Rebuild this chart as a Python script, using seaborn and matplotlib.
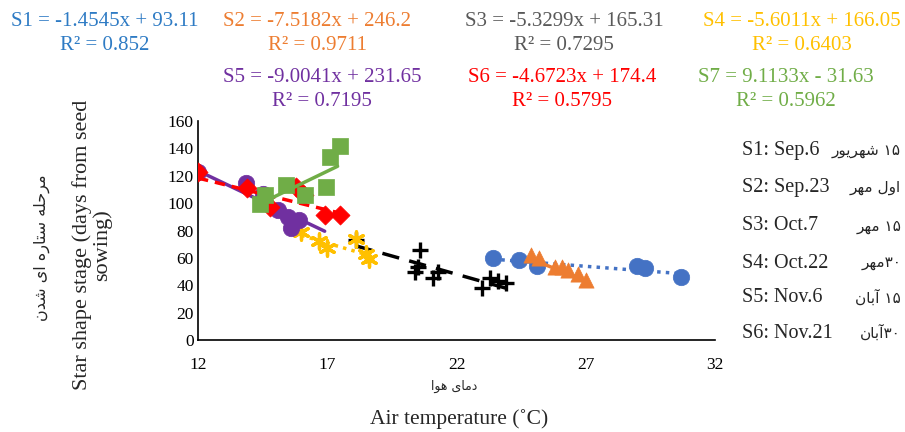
import re
import numpy as np
import pandas as pd
import matplotlib
matplotlib.use('Agg')
import matplotlib.pyplot as plt
import seaborn as sns

# Data (air temperature vs. days to star-shape stage)
s1_x = [23.4, 24.4, 25.1, 29.0, 29.3, 30.7]
s1_y = [60, 58.5, 54, 54, 52.5, 46]
s2_x = [24.9, 25.2, 25.8, 26.1, 26.3, 26.7, 27.0]
s2_y = [62, 60, 53, 53, 51, 48, 44]
s3_x = [18.1, 20.4, 20.6, 20.5, 21.1, 21.3, 23.0, 23.3, 23.6, 23.9]
s3_y = [73, 50, 66, 53, 45, 50, 38, 45, 43, 42]
s4_x = [16.0, 16.7, 17.0, 18.1, 18.5, 18.6]
s4_y = [79, 72, 67, 74, 63, 59]
s5_x = [12.0, 13.85, 14.5, 15.1, 15.5, 15.6, 15.9]
s5_y = [123, 115, 107, 95, 90, 82, 88]
s6_x = [12.0, 13.9, 14.8, 15.8, 16.1, 16.9, 17.5]
s6_y = [123, 111, 97, 112, 106, 91, 91]
s7_x = [14.4, 14.6, 15.4, 16.15, 16.95, 17.1, 17.5]
s7_y = [99, 106, 113, 106, 112, 134, 142]

series = ['S1', 'S2', 'S3', 'S4', 'S5', 'S6', 'S7']
slopes = [-1.4545, -7.5182, -5.3299, -5.6011, -9.0041, -4.6723, 9.1133]
intercepts = [93.11, 246.2, 165.31, 166.05, 231.65, 174.4, -31.63]
r2 = ['0.852', '0.9711', '0.7295', '0.6403', '0.7195', '0.5795', '0.5962']
trend_lo = [23.4, 24.9, 18.1, 16.0, 12.0, 12.0, 14.4]
trend_hi = [30.7, 27.0, 23.9, 18.6, 16.9, 17.5, 17.4]

dates_en = ['S1: Sep.6', 'S2: Sep.23', 'S3: Oct.7', 'S4: Oct.22', 'S5: Nov.6', 'S6: Nov.21']
dates_fa = ['۱۵ شهریور', 'اول مهر', '۱۵ مهر', '۳۰مهر', '۱۵ آبان', '۳۰آبان']

xticks = [12, 17, 22, 27, 32]
yticks = [0, 20, 40, 60, 80, 100, 120, 140, 160]

xs = [s1_x, s2_x, s3_x, s4_x, s5_x, s6_x, s7_x]
ys = [s1_y, s2_y, s3_y, s4_y, s5_y, s6_y, s7_y]

# Persian letters -> (isolated, final, initial, medial); None = does not join forward
FORMS = {
    'ا': ('\uFE8D', '\uFE8E', None, None),
    'آ': ('\uFE81', '\uFE82', None, None),
    'ب': ('\uFE8F', '\uFE90', '\uFE91', '\uFE92'),
    'ت': ('\uFE95', '\uFE96', '\uFE97', '\uFE98'),
    'ح': ('\uFEA1', '\uFEA2', '\uFEA3', '\uFEA4'),
    'د': ('\uFEA9', '\uFEAA', None, None),
    'ر': ('\uFEAD', '\uFEAE', None, None),
    'س': ('\uFEB1', '\uFEB2', '\uFEB3', '\uFEB4'),
    'ش': ('\uFEB5', '\uFEB6', '\uFEB7', '\uFEB8'),
    'ل': ('\uFEDD', '\uFEDE', '\uFEDF', '\uFEE0'),
    'م': ('\uFEE1', '\uFEE2', '\uFEE3', '\uFEE4'),
    'ن': ('\uFEE5', '\uFEE6', '\uFEE7', '\uFEE8'),
    'ه': ('\uFEE9', '\uFEEA', '\uFEEB', '\uFEEC'),
    'و': ('\uFEED', '\uFEEE', None, None),
    'ی': ('\uFBFC', '\uFBFD', '\uFBFE', '\uFBFF'),
}


def fa(text):
    # contextual shaping + right-to-left visual order (digits stay LTR)
    out = []
    for i, ch in enumerate(text):
        if ch not in FORMS:
            out.append(ch)
            continue
        prev = text[i - 1] if i > 0 else ''
        nxt = text[i + 1] if i + 1 < len(text) else ''
        jp = prev in FORMS and FORMS[prev][2] is not None
        jn = nxt in FORMS and FORMS[ch][2] is not None
        iso, fin, ini, med = FORMS[ch]
        out.append(med if (jp and jn) else fin if jp else ini if jn else iso)
    vis = ''.join(out)[::-1]
    return re.sub('[۰-۹]+', lambda m: m.group(0)[::-1], vis)


sns.set_style('white')
plt.rcParams['font.family'] = ['Liberation Serif', 'DejaVu Sans']

marker_col = ['#4472C4', '#ED7D31', '#000000', '#FFC000', '#7030A0', '#FF0000', '#70AD47']
text_col = ['#2E7BC4', '#ED7D31', '#595959', '#FFC000', '#7030A0', '#FF0000', '#70AD47']
markers = ['o', '^', '+', (6, 2, 0), 'o', 'D', 's']
sizes = [140, 120, 130, 120, 140, 95, 130]
line_styles = [(0, (1, 1.5)), '-', (0, (5, 3)), (0, (1, 1.5)), '-', (0, (3, 2)), '-']

fig = plt.figure(figsize=(9.05, 4.32), dpi=100)
ax = fig.add_axes([198 / 905, 1 - 340 / 432, 517 / 905, 219 / 432])

for i, name in enumerate(series):
    df = pd.DataFrame({'x': xs[i], 'y': ys[i]})
    if markers[i] in ['+', (6, 2, 0)]:
        sns.scatterplot(data=df, x='x', y='y', ax=ax, marker=markers[i], s=sizes[i],
                        color=marker_col[i], linewidth=2.4, zorder=3 + i)
    else:
        sns.scatterplot(data=df, x='x', y='y', ax=ax, marker=markers[i], s=sizes[i],
                        color=marker_col[i], edgecolor=marker_col[i], linewidth=0.5,
                        zorder=3 + i)
    tx = np.array([trend_lo[i], trend_hi[i]])
    ax.plot(tx, slopes[i] * tx + intercepts[i], color=marker_col[i], lw=2.5,
            ls=line_styles[i], zorder=3 + i)

ax.set_xlim(12, 32)
ax.set_ylim(0, 160)
ax.set_xticks(xticks)
ax.set_yticks(yticks)
ax.set_xlabel('')
ax.set_ylabel('')
ax.tick_params(axis='both', length=0, labelsize=12.5, colors='#000000')
ax.tick_params(axis='x', pad=12)
ax.tick_params(axis='y', pad=3)
for side in ['top', 'right']:
    ax.spines[side].set_visible(False)
for side in ['left', 'bottom']:
    ax.spines[side].set_color('#000000')
    ax.spines[side].set_linewidth(1.2)

# regression equations above the plot
eq_pos = [(105, 22), (317, 22), (564, 22), (802, 22), (322, 78), (562, 78), (786, 78)]
for i, name in enumerate(series):
    b = intercepts[i]
    sign = '+' if b >= 0 else '-'
    eq = f'{name} = {slopes[i]}x {sign} {abs(b):g}'
    px, py = eq_pos[i]
    fig.text(px / 905, 1 - py / 432, eq, color=text_col[i], fontsize=15,
             ha='center', va='center')
    fig.text(px / 905, 1 - (py + 23) / 432, f'R² = {r2[i]}', color=text_col[i],
             fontsize=15, ha='center', va='center')

# sowing dates on the right
row_y = [150, 188, 226, 263, 298, 333]
for i in range(len(dates_en)):
    fig.text(742 / 905, 1 - row_y[i] / 432, dates_en[i], fontsize=14.5,
             ha='left', va='center')
    fig.text(901 / 905, 1 - row_y[i] / 432, fa(dates_fa[i]), fontsize=11,
             ha='right', va='center', family=['DejaVu Sans'])

# axis titles
fig.text(92 / 905, 1 - 245 / 432, 'Star shape stage (days from seed\nsowing)',
         rotation=90, fontsize=16, ha='center', va='center', multialignment='center',
         linespacing=1.0)
fig.text(42 / 905, 1 - 248 / 432, fa('مرحله ستاره ای شدن'), rotation=90,
         fontsize=11.5, ha='center', va='center', family=['DejaVu Sans'])
fig.text(454 / 905, 1 - 386 / 432, fa('دمای هوا'), fontsize=9,
         ha='center', va='center', family=['DejaVu Sans'])
fig.text(459 / 905, 1 - 419 / 432, 'Air temperature (˚C)', fontsize=15.5,
         ha='center', va='center')

fig.savefig('out.png', dpi=100)
